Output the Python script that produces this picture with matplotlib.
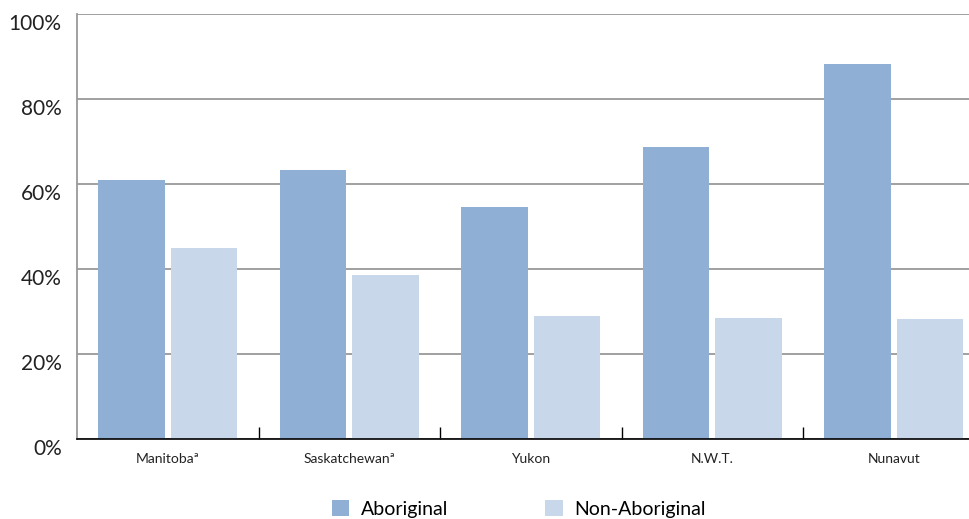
import numpy as np
import matplotlib.pyplot as plt
import matplotlib.transforms as mtransforms

regions = ["Manitoba\u00aa", "Saskatchewan\u00aa", "Yukon", "N.W.T.", "Nunavut"]
aboriginal = [60.9, 63.3, 54.6, 68.7, 88.2]
non_aboriginal = [44.9, 38.6, 28.9, 28.5, 28.2]

plt.rcParams['font.family'] = ['Lato', 'DejaVu Sans']

fig = plt.figure(figsize=(9.7, 5.19), dpi=100)
ax = fig.add_axes([0.0794, 0.154, 0.9206, 0.819])

x = np.arange(len(regions))
w = 0.365
ax.bar(x - 0.2, aboriginal, w, color='#8FAFD5', label='Aboriginal', zorder=3)
ax.bar(x + 0.2, non_aboriginal, w, color='#C8D7EA', label='Non-Aboriginal', zorder=3)

ax.set_xlim(-0.5, 4.42)
ax.set_ylim(0, 100)
ax.set_yticks([0, 20, 40, 60, 80, 100])
ax.set_yticklabels(['0%', '20%', '40%', '60%', '80%', '100%'], fontsize=15, color='#222222')
ax.yaxis.grid(True, color='#999999', linewidth=1.3, zorder=0)
ax.tick_params(axis='y', length=0, pad=11)
# labels sit a little below their gridlines
offset = mtransforms.ScaledTranslation(0, -8 / 100, fig.dpi_scale_trans)
for lab in ax.get_yticklabels():
    lab.set_transform(lab.get_transform() + offset)

ax.set_xticks(x)
ax.set_xticklabels(regions, fontsize=10, color='#222222')
ax.tick_params(axis='x', which='major', length=0, pad=10)
ax.set_xticks(x[:-1] + 0.5, minor=True)
ax.tick_params(axis='x', which='minor', direction='in', length=9, width=1, color='black')

for s in ['top', 'right']:
    ax.spines[s].set_visible(False)
ax.spines['left'].set_color('#999999')
ax.spines['left'].set_linewidth(1.3)
ax.spines['bottom'].set_color('black')
ax.spines['bottom'].set_linewidth(1.2)
ax.spines['bottom'].set_zorder(4)

fig.legend(loc='center', bbox_to_anchor=(0.535, 0.019), ncol=2, frameon=False,
           fontsize=14, handlelength=0.9, handleheight=0.9, handletextpad=0.6,
           columnspacing=5.0)

fig.savefig('out.png', dpi=100)
